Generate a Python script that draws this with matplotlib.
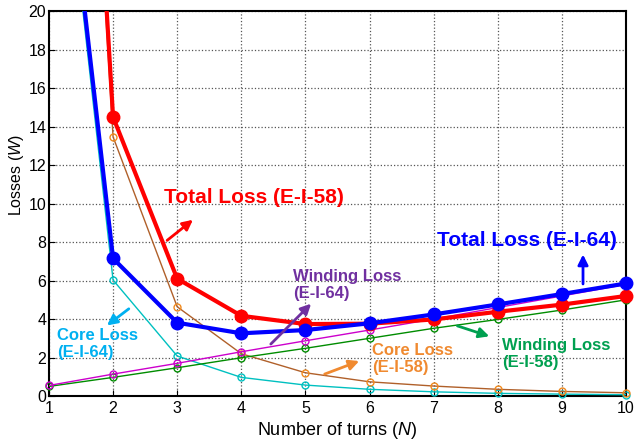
import numpy as np
import matplotlib.pyplot as plt

plt.rcParams['font.family'] = ['Liberation Sans', 'DejaVu Sans']
plt.rcParams['mathtext.fontset'] = 'custom'
plt.rcParams['mathtext.it'] = 'Liberation Sans:italic'
plt.rcParams['mathtext.rm'] = 'Liberation Sans'

turns = [1, 2, 3, 4, 5, 6, 7, 8, 9, 10]
total_58 = [70.0, 14.5, 6.1, 4.17, 3.74, 3.76, 3.98, 4.38, 4.75, 5.2]
total_64 = [36.3, 7.15, 3.81, 3.26, 3.43, 3.78, 4.24, 4.76, 5.3, 5.85]
core_58 = [69.5, 13.47, 4.64, 2.2, 1.21, 0.74, 0.52, 0.35, 0.24, 0.17]
core_64 = [35.75, 6.03, 2.08, 0.97, 0.57, 0.35, 0.22, 0.14, 0.1, 0.07]
wind_58 = [0.5, 0.97, 1.47, 1.99, 2.48, 3.0, 3.52, 3.98, 4.47, 5.0]
wind_64 = [0.55, 1.14, 1.7, 2.3, 2.87, 3.43, 4.0, 4.6, 5.2, 5.8]

fig = plt.figure(figsize=(6.44, 4.46), dpi=100)
ax = fig.add_axes([0.076, 0.112, 0.896, 0.863])


def draw(y, color, lw, ms, mfc, mec, z):
    ax.plot(turns, y, '-', color=color, lw=lw, zorder=z)
    x = np.array(turns)
    y = np.array(y)
    m = y <= 20
    ax.plot(x[m], y[m], 'o', ms=ms, mfc=mfc, mec=mec, mew=1, clip_on=False, zorder=z)


draw(core_64, '#00C0C0', 1, 5, 'none', '#00C0C0', 3)
draw(core_58, '#B0602A', 1, 5, 'none', '#F08A1E', 3)
draw(wind_58, '#008C00', 1, 5, 'none', '#008C00', 3)
draw(wind_64, '#CC00CC', 1, 5, 'none', '#CC00CC', 3)
draw(total_58, '#FF0000', 3, 9, '#FF0000', '#FF0000', 4)
draw(total_64, '#0000FF', 3, 9, '#0000FF', '#0000FF', 5)

ax.set_xlim(1, 10)
ax.set_ylim(0, 20)
ax.set_xticks(range(1, 11))
ax.set_yticks(range(0, 21, 2))
ax.grid(True, linestyle=':', color='#555555', lw=0.9)
ax.tick_params(direction='in', labelsize=11.5, length=4)
ax.tick_params(axis='y', pad=2)
for s in ax.spines.values():
    s.set_linewidth(1.5)
ax.set_xlabel('Number of turns ($\\it{N}$)', fontsize=13, labelpad=3)
ax.set_ylabel('Losses ($\\it{W}$)', fontsize=11.5)
ax.yaxis.set_label_coords(-0.04, 0.575)


def note(text, xy, xytext, color, tx, ty, size, ha='left'):
    ax.annotate('', xy=xy, xytext=xytext,
                arrowprops=dict(arrowstyle='-|>', color=color, lw=2, mutation_scale=15),
                zorder=6)
    ax.text(tx, ty, text, color=color, fontsize=size, fontweight='bold',
            ha=ha, va='center', linespacing=1.2, zorder=6)


note('Total Loss (E-I-58)', (3.28, 9.25), (2.81, 8.0), '#FF0000', 4.2, 10.3, 15, 'center')
note('Total Loss (E-I-64)', (9.33, 7.5), (9.33, 5.68), '#0000FF', 8.45, 8.1, 15, 'center')
note('Winding Loss\n(E-I-64)', (5.12, 4.9), (4.43, 2.6), '#7030A0', 4.81, 5.77, 12)
note('Core Loss\n(E-I-64)', (1.87, 3.58), (2.28, 4.62), '#00B0F0', 1.125, 2.7, 12)
note('Core Loss\n(E-I-58)', (5.88, 1.87), (5.26, 1.09), '#F08A30', 6.04, 1.92, 12)
note('Winding Loss\n(E-I-58)', (7.91, 3.06), (7.33, 3.69), '#00A050', 8.07, 2.18, 12)

fig.savefig('out.png', dpi=100)
